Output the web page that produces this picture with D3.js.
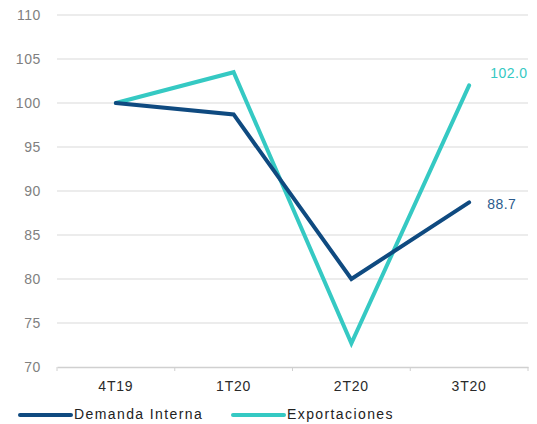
<!DOCTYPE html>
<html>
<head>
<meta charset="utf-8">
<script src="https://cdn.jsdelivr.net/npm/d3@7/dist/d3.min.js"></script>
<style>
  html, body { margin: 0; padding: 0; background: #fff; }
  svg { display: block; font-family: "Liberation Sans", Arial, sans-serif; }
</style>
</head>
<body>
<svg id="chart" width="537" height="424"></svg>
<script>
const categories = ["4T19", "1T20", "2T20", "3T20"];
const demandaInterna = [100, 98.7, 80.0, 88.7];
const exportaciones = [100, 103.5, 72.7, 102.0];
const yTicks = [70, 75, 80, 85, 90, 95, 100, 105, 110];
const seriesNames = ["Demanda Interna", "Exportaciones"];
const seriesColors = ["#0f4a80", "#35c9c3"];

const svg = d3.select("#chart");
const margin = { left: 57, right: 9, top: 15, bottom: 57 };
const W = 537, H = 424;

const x = d3.scaleBand().domain(categories)
  .range([margin.left, W - margin.right]).padding(0);
const y = d3.scaleLinear().domain([70, 110])
  .range([H - margin.bottom, margin.top]);

// horizontal gridlines
svg.append("g").selectAll("line").data(yTicks.filter(t => t !== 70)).join("line")
  .attr("x1", margin.left).attr("x2", W - margin.right)
  .attr("y1", d => y(d)).attr("y2", d => y(d))
  .attr("stroke", "#d9d9d9").attr("stroke-width", 1);

// y tick labels
svg.append("g").selectAll("text").data(yTicks).join("text")
  .attr("x", 41).attr("y", d => y(d)).attr("dy", "0.35em")
  .attr("text-anchor", "end").attr("font-size", 14).attr("letter-spacing", 0.6)
  .attr("fill", "#808080")
  .text(d => d);

// bottom axis
const xAxis = svg.append("g").attr("transform", `translate(0,${y(70)})`)
  .call(d3.axisBottom(x).tickSize(0).tickPadding(14));
xAxis.select(".domain").attr("stroke", "#d0d0d0").attr("stroke-width", 1.5);
xAxis.selectAll("text").attr("font-size", 14).attr("letter-spacing", 0.8).attr("fill", "#2a2a2a")
  .attr("font-family", "Liberation Sans, Arial, sans-serif");
const bounds = categories.map(c => x(c)).concat([x(categories[categories.length - 1]) + x.bandwidth()]);
xAxis.selectAll(".sep").data(bounds).join("line").attr("class", "sep")
  .attr("x1", d => d).attr("x2", d => d).attr("y1", 0).attr("y2", 4)
  .attr("stroke", "#d0d0d0").attr("stroke-width", 1);

const cx = c => x(c) + x.bandwidth() / 2;
const line = d3.line().x((d, i) => cx(categories[i])).y(d => y(d));

// Exportaciones first so Demanda Interna sits on top at crossings
[[exportaciones, seriesColors[1]], [demandaInterna, seriesColors[0]]].forEach(([vals, col]) => {
  svg.append("path").datum(vals).attr("d", line)
    .attr("fill", "none").attr("stroke", col).attr("stroke-width", 4)
    .attr("stroke-linejoin", "miter").attr("stroke-linecap", "round");
});

// end-point value labels
const last = categories.length - 1;
svg.append("text").attr("x", cx(categories[last]) + 21).attr("y", y(exportaciones[last]) - 7)
  .attr("font-size", 14).attr("letter-spacing", 0.5).attr("fill", seriesColors[1])
  .text(exportaciones[last].toFixed(1));
svg.append("text").attr("x", cx(categories[last]) + 18).attr("y", y(demandaInterna[last]) + 7)
  .attr("font-size", 14).attr("letter-spacing", 0.5).attr("fill", "#2a5a8c")
  .text(demandaInterna[last].toFixed(1));

// legend
const legendX = [20, 233];
seriesNames.forEach((name, i) => {
  const g = svg.append("g").attr("transform", `translate(${legendX[i]},415)`);
  g.append("line").attr("x1", 0).attr("x2", 51).attr("y1", 0).attr("y2", 0)
    .attr("stroke", seriesColors[i]).attr("stroke-width", 4).attr("stroke-linecap", "round");
  g.append("text").attr("x", 54).attr("y", -1).attr("dy", "0.35em")
    .attr("font-size", 14).attr("letter-spacing", 1.4).attr("fill", "#222").text(name);
});
</script>
</body>
</html>
